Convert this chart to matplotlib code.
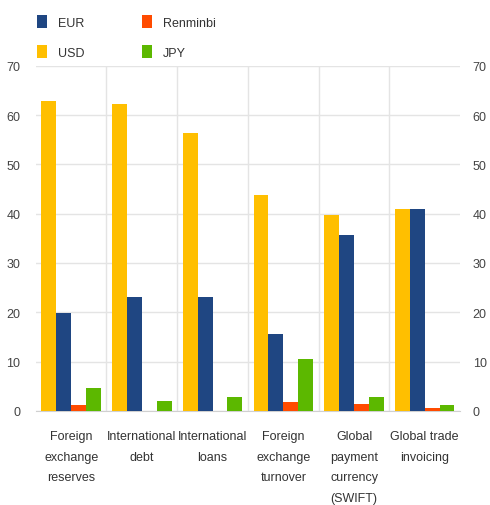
import numpy as np
import matplotlib.pyplot as plt

plt.rcParams['font.family'] = ['Liberation Sans', 'DejaVu Sans']

# ---------------- Data (% shares) ----------------
categories = ["Foreign\nexchange\nreserves", "International\ndebt",
              "International\nloans", "Foreign\nexchange\nturnover",
              "Global\npayment\ncurrency\n(SWIFT)", "Global trade\ninvoicing"]
usd = [62.8, 62.3, 56.4, 43.8, 39.8, 41.0]
eur = [19.8, 23.2, 23.1, 15.5, 35.7, 41.0]
renminbi = [1.1, 0.0, 0.0, 1.8, 1.3, 0.5]
jpy = [4.6, 2.1, 2.9, 10.5, 2.8, 1.1]

colors = {"EUR": "#1f4682", "USD": "#ffbf00", "Renminbi": "#ff4b00", "JPY": "#5cb800"}

# ---------------- Plot ----------------
fig = plt.figure(figsize=(4.9, 5.06), dpi=100)
ax = fig.add_axes([0.073, 0.186, 0.866, 0.682])

x = np.arange(len(categories))
w = 0.21
series = [("USD", usd), ("EUR", eur), ("Renminbi", renminbi), ("JPY", jpy)]
bars = {}
for i, (name, vals) in enumerate(series):
    bars[name] = ax.bar(x - 1.5 * w + i * w, vals, w, color=colors[name], zorder=3)

ax.set_xlim(-0.5, len(categories) - 0.5)
ax.set_ylim(0, 70)
ax.set_yticks(range(0, 71, 10))
ax.set_xticks(x)
ax.set_xticklabels(categories, fontsize=9, color="#333333", linespacing=1.95)
ax.tick_params(axis="x", length=0, pad=14)
ax.tick_params(axis="y", length=0, labelsize=9, labelcolor="#444444", pad=11)

# horizontal grid plus vertical separators between groups
ax.grid(axis="y", color="#e4e4e4", lw=1, zorder=0)
for b in x[1:] - 0.5:
    ax.axvline(b, color="#e4e4e4", lw=1, zorder=0)
for s in ["top", "left", "right"]:
    ax.spines[s].set_visible(False)
ax.spines["bottom"].set_color("#d0d0d0")

ax2 = ax.twinx()
ax2.set_ylim(0, 70)
ax2.set_yticks(range(0, 71, 10))
ax2.tick_params(axis="y", length=0, labelsize=9, labelcolor="#444444", pad=9)
for s in ax2.spines.values():
    s.set_visible(False)

order = ["EUR", "USD", "Renminbi", "JPY"]
fig.legend([bars[n] for n in order], order, loc="upper left",
           bbox_to_anchor=(0.052, 0.99), ncol=2, frameon=False, fontsize=9,
           handlelength=0.8, handleheight=1.2, handletextpad=0.9,
           columnspacing=4.6, labelspacing=1.3, labelcolor="#333333")

plt.savefig("out.png", dpi=100)
